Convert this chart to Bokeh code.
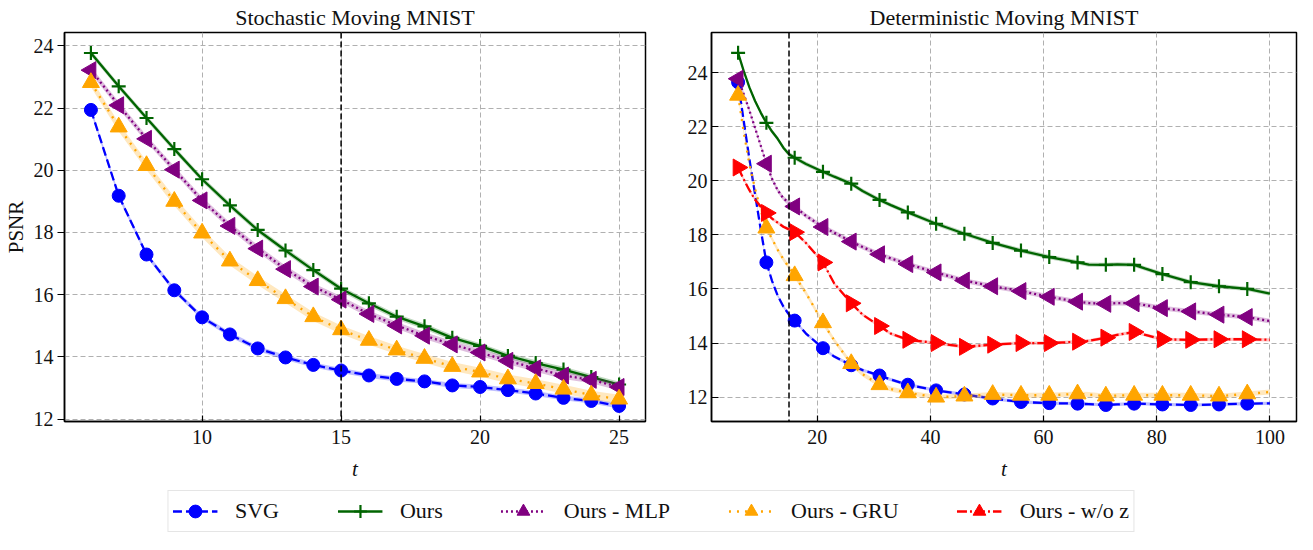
import math
from bokeh.plotting import figure
from bokeh.layouts import column, row
from bokeh.models import Span, Legend, LegendItem, Range1d, FixedTicker
from bokeh.embed import file_html
from bokeh.resources import INLINE

# ---------------- data ----------------
CONTEXT_T = 15

# Stochastic Moving MNIST (every step t = 6..25)
T_LEFT = list(range(6, 26))
L_SVG = [21.94, 19.18, 17.29, 16.14, 15.27, 14.72, 14.27, 13.98, 13.74, 13.56,
         13.40, 13.29, 13.21, 13.08, 13.03, 12.93, 12.82, 12.68, 12.58, 12.42]
L_OURS = [23.77, 22.70, 21.68, 20.68, 19.71, 18.87, 18.08, 17.42, 16.79, 16.19,
          15.72, 15.29, 14.98, 14.61, 14.35, 14.03, 13.80, 13.59, 13.35, 13.11]
L_MLP = [23.22, 22.09, 21.01, 20.02, 19.03, 18.21, 17.48, 16.82, 16.26, 15.84,
         15.38, 15.01, 14.68, 14.40, 14.14, 13.87, 13.63, 13.40, 13.26, 13.03]
L_GRU = [22.82, 21.39, 20.15, 19.00, 17.98, 17.08, 16.45, 15.87, 15.29, 14.87,
         14.53, 14.22, 13.95, 13.69, 13.51, 13.29, 13.14, 12.96, 12.77, 12.64]
L_BAND = [0.08, 0.09, 0.11, 0.14]  # SVG, Ours, MLP, GRU (std half-width)

# Deterministic Moving MNIST (curve samples; markers every 5 steps)
T_RIGHT = [6, 7, 8, 9, 10, 11, 12, 13, 14, 15, 16, 18, 21, 23, 26, 28, 31, 33, 36,
           41, 46, 51, 56, 61, 66, 68, 71, 73, 76, 78, 81, 86, 91, 96, 100]
T_RIGHT_MARK = list(range(6, 100, 5))
R_SVG = [23.64, 22.2, 20.8, 19.5, 18.2, 16.98, 16.3, 15.75, 15.35, 15.05, 14.83,
         14.35, 13.81, 13.5, 13.18, 13.0, 12.80, 12.65, 12.46, 12.25, 12.10, 11.95,
         11.82, 11.78, 11.76, 11.74, 11.71, 11.73, 11.76, 11.75, 11.73, 11.71,
         11.73, 11.76, 11.77]
R_OURS = [24.73, 24.05, 23.45, 22.95, 22.52, 22.14, 21.82, 21.55, 21.22, 20.98,
          20.85, 20.62, 20.33, 20.15, 19.89, 19.62, 19.29, 19.1, 18.83, 18.41,
          18.04, 17.70, 17.42, 17.18, 16.98, 16.9, 16.89, 16.91, 16.89, 16.75,
          16.55, 16.25, 16.10, 16.0, 15.83]
R_MLP = [23.77, 23.2, 22.6, 21.95, 21.3, 20.63, 20.07, 19.65, 19.35, 19.17, 19.05,
         18.7, 18.29, 18.08, 17.75, 17.55, 17.28, 17.13, 16.92, 16.61, 16.31,
         16.10, 15.92, 15.71, 15.53, 15.48, 15.45, 15.48, 15.47, 15.4, 15.29,
         15.17, 15.05, 14.96, 14.81]
R_GRU = [23.16, 21.8, 20.6, 19.7, 18.9, 18.25, 17.85, 17.45, 17.1, 16.8, 16.49,
         15.85, 14.75, 14.1, 13.24, 12.85, 12.46, 12.3, 12.16, 12.0, 12.04, 12.1,
         12.07, 12.07, 12.12, 12.1, 12.04, 12.06, 12.07, 12.07, 12.07, 12.07,
         12.04, 12.12, 12.19]
R_WOZ = [20.49, 20.05, 19.65, 19.3, 19.05, 18.81, 18.6, 18.45, 18.3, 18.2, 18.10,
         17.7, 16.98, 16.2, 15.47, 15.05, 14.63, 14.35, 14.12, 14.0, 13.86, 13.94,
         14.0, 14.0, 14.05, 14.08, 14.2, 14.3, 14.41, 14.3, 14.14, 14.12, 14.14,
         14.14, 14.12]
R_BAND = [0.06, 0.08, 0.09, 0.09, 0.06]  # SVG, Ours, MLP, GRU, w/o z

X_TICKS_LEFT = [10, 15, 20, 25]
X_TICKS_RIGHT = [20, 40, 60, 80, 100]
Y_TICKS = [12, 14, 16, 18, 20, 22, 24]

LABELS = ["SVG", "Ours", "Ours - MLP", "Ours - GRU", "Ours - w/o z"]

# ---------------- styles ----------------
FONT = "Liberation Serif"
STYLES = [
    dict(color="#0000ff", dash="9 4", marker="circle", size=13, angle=0.0),
    dict(color="#006400", dash="solid", marker="cross", size=14, angle=0.0),
    dict(color="#800080", dash="2 3", marker="triangle", size=17, angle=math.pi / 2),
    dict(color="#ffa500", dash="2 6", marker="triangle", size=17, angle=0.0),
    dict(color="#ff0000", dash="10 3 2 3", marker="triangle", size=17, angle=-math.pi / 2),
]


def style_fig(p, x_ticks, y_ticks, y_ticks_out):
    p.title.text_font = FONT
    p.title.text_font_size = "22px"
    p.title.text_font_style = "normal"
    p.title.text_color = "#111111"
    p.title.align = "center"
    p.title.standoff = 5
    p.outline_line_color = "black"
    p.outline_line_width = 1.5
    p.outline_line_alpha = 1.0
    p.xaxis.ticker = FixedTicker(ticks=x_ticks)
    p.yaxis.ticker = FixedTicker(ticks=y_ticks)
    for ax in (p.xaxis[0], p.yaxis[0]):
        ax.axis_line_color = "black"
        ax.axis_line_width = 1.5
        ax.major_tick_line_color = "black"
        ax.major_tick_line_width = 1.2
        ax.minor_tick_line_color = None
        ax.major_label_text_font = FONT
        ax.major_label_text_font_size = "20px"
        ax.major_label_text_color = "#111111"
        ax.axis_label_text_font = FONT
        ax.axis_label_text_font_size = "21px"
        ax.axis_label_text_color = "#111111"
        ax.major_label_standoff = 4
        ax.axis_label_standoff = 4
    p.xaxis.major_tick_in = 6
    p.xaxis.major_tick_out = 0
    p.xaxis.major_label_standoff = 8
    p.xaxis.axis_label_standoff = 10
    if y_ticks_out:
        p.yaxis.major_tick_in = 0
        p.yaxis.major_tick_out = 7
    else:
        p.yaxis.major_tick_in = 7
        p.yaxis.major_tick_out = 0
    p.xaxis.axis_label = "t"
    p.xaxis.axis_label_text_font_style = "italic"
    p.yaxis.axis_label_text_font_style = "normal"
    p.grid.grid_line_color = "#b0b0b0"
    p.grid.grid_line_dash = "5 3"
    p.grid.grid_line_width = 1
    p.add_layout(Span(location=CONTEXT_T, dimension="height", line_color="black",
                      line_dash="6 3", line_width=1.5))


def add_series(p, t, vals, st, t_mark=None, band=None, visible=True):
    if band is not None:
        lo = [v - band for v in vals]
        hi = [v + band for v in vals]
        p.varea(x=t, y1=lo, y2=hi, fill_color=st["color"], fill_alpha=0.25)
    lr = p.line(t, vals, line_color=st["color"], line_width=2.3, line_dash=st["dash"])
    if t_mark is None:
        tm, vm = t, vals
    else:
        lookup = dict(zip(t, vals))
        tm = t_mark
        vm = [lookup[k] for k in t_mark]
    if st["marker"] == "cross":
        sr = p.scatter(tm, vm, marker="cross", size=st["size"], line_color=st["color"],
                       line_width=2.2)
    else:
        sr = p.scatter(tm, vm, marker=st["marker"], size=st["size"], angle=st["angle"],
                       fill_color=st["color"], line_color=st["color"], line_width=1)
    lr.visible = visible
    sr.visible = visible
    return lr, sr


H = 484
p1 = figure(width=653, height=H, title="Stochastic Moving MNIST",
            x_range=Range1d(5.05, 25.95), y_range=Range1d(11.92, 24.43),
            output_backend="svg", toolbar_location=None,
            min_border_left=59, min_border_right=8, min_border_top=22,
            min_border_bottom=63)
style_fig(p1, X_TICKS_LEFT, Y_TICKS, True)
p1.yaxis.axis_label = "PSNR"
p1.yaxis.axis_label_standoff = 3
for vals, band, st in zip([L_SVG, L_OURS, L_MLP, L_GRU], L_BAND, STYLES[:4]):
    add_series(p1, T_LEFT, vals, st, band=band)

p2 = figure(width=648, height=H, title="Deterministic Moving MNIST",
            x_range=Range1d(1.3, 104.7), y_range=Range1d(11.1, 25.48),
            output_backend="svg", toolbar_location=None,
            min_border_left=58, min_border_right=5, min_border_top=22,
            min_border_bottom=63)
style_fig(p2, X_TICKS_RIGHT, Y_TICKS, False)
R_ALL = [R_SVG, R_OURS, R_MLP, R_GRU, R_WOZ]
for vals, band, st in zip(R_ALL, R_BAND, STYLES):
    add_series(p2, T_RIGHT, vals, st, t_mark=T_RIGHT_MARK, band=band)

# ---------------- legend strip (hidden copies of the series feed the legend) ----
lf = figure(width=1301, height=50, output_backend="svg", toolbar_location=None,
            min_border=0, x_axis_location=None, y_axis_location=None,
            x_range=Range1d(1.3, 104.7), y_range=Range1d(11.1, 25.48))
lf.outline_line_color = None
lf.grid.visible = False
items = []
for label, vals, st in zip(LABELS, R_ALL, STYLES):
    lr, sr = add_series(lf, T_RIGHT, vals, st, t_mark=T_RIGHT_MARK, visible=False)
    items.append(LegendItem(label=label, renderers=[lr, sr]))
legend = Legend(items=items, orientation="horizontal", location="bottom_center",
                label_text_font=FONT, label_text_font_size="22px",
                label_text_font_style="normal", label_text_color="#111111",
                glyph_width=45, glyph_height=32, label_standoff=18, spacing=58,
                padding=4, margin=2, border_line_color="#cccccc",
                border_line_width=1.5, background_fill_alpha=1.0,
                inactive_fill_alpha=0.0)
lf.add_layout(legend, "center")

layout = column(row(p1, p2), lf)
open("out.html", "w").write(file_html(layout, INLINE))
